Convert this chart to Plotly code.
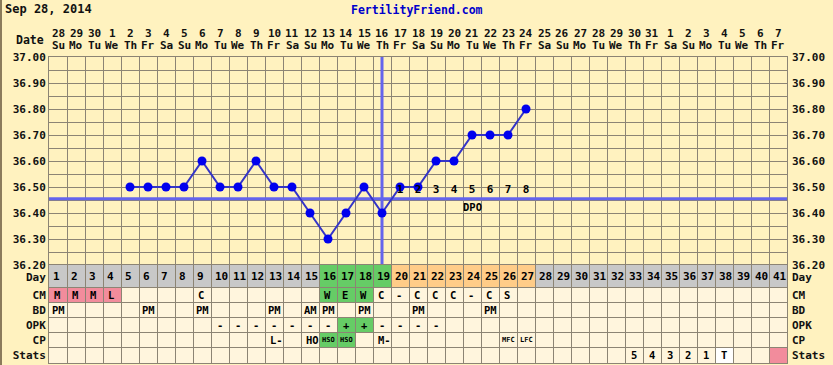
import plotly.graph_objects as go

# ---------------- data ----------------
days = list(range(1, 42))
date_labels = ["28", "29", "30", "1", "2", "3", "4", "5", "6", "7", "8", "9", "10", "11",
               "12", "13", "14", "15", "16", "17", "18", "19", "20", "21", "22", "23", "24",
               "25", "26", "27", "28", "29", "30", "31", "1", "2", "3", "4", "5", "6", "7"]
weekday_labels = ["Su", "Mo", "Tu", "We", "Th", "Fr", "Sa", "Su", "Mo", "Tu", "We", "Th", "Fr", "Sa",
                  "Su", "Mo", "Tu", "We", "Th", "Fr", "Sa", "Su", "Mo", "Tu", "We", "Th", "Fr", "Sa",
                  "Su", "Mo", "Tu", "We", "Th", "Fr", "Sa", "Su", "Mo", "Tu", "We", "Th", "Fr"]

temp_days = [5, 6, 7, 8, 9, 10, 11, 12, 13, 14, 15, 16, 17, 18, 19, 20, 21, 22, 23, 24, 25, 26, 27]
temps = [36.50, 36.50, 36.50, 36.50, 36.60, 36.50, 36.50, 36.60, 36.50, 36.50, 36.40, 36.30,
         36.40, 36.50, 36.40, 36.50, 36.50, 36.60, 36.60, 36.70, 36.70, 36.70, 36.80]

ovulation_day = 19
coverline = 36.455
dpo_days = [20, 21, 22, 23, 24, 25, 26, 27]
dpo_labels = ["1", "2", "3", "4", "5", "6", "7", "8"]
dpo_title_day = 24

temp_ticks = [36.20, 36.30, 36.40, 36.50, 36.60, 36.70, 36.80, 36.90, 37.00]

day_phase = ["grey"] * 15 + ["green"] * 4 + ["orange"] * 8 + ["grey"] * 14

cm_obs = {1: "M", 2: "M", 3: "M", 4: "L", 9: "C", 16: "W", 17: "E", 18: "W", 19: "C",
          20: "-", 21: "C", 22: "C", 23: "C", 24: "-", 25: "C", 26: "S"}
cm_fill = {1: "pink", 2: "pink", 3: "pink", 4: "pink", 16: "green", 17: "green", 18: "green"}
bd_obs = {1: "PM", 6: "PM", 9: "PM", 13: "PM", 15: "AM", 16: "PM", 18: "PM", 21: "PM", 25: "PM"}
opk_obs = {10: "-", 11: "-", 12: "-", 13: "-", 14: "-", 15: "-", 16: "-", 17: "+", 18: "+",
           19: "-", 20: "-", 21: "-", 22: "-"}
opk_fill = {17: "green", 18: "green"}
cp_obs = {13: "L-", 15: "HO", 16: "HSO", 17: "HSO", 19: "M-", 26: "MFC", 27: "LFC"}
cp_fill = {16: "green", 17: "green"}
cp_small = ["HSO", "MFC", "LFC"]
stats_obs = {33: "5", 34: "4", 35: "3", 36: "2", 37: "1", 38: "T"}
stats_fill = {38: "white", 41: "pink"}

row_names = ["Day", "CM", "BD", "OPK", "CP", "Stats"]
row_bottoms = [5.0, 4.0, 3.0, 2.0, 1.0, 0.0]
row_tops = [6.5, 5.0, 4.0, 3.0, 2.0, 1.0]

# ---------------- style ----------------
BG = "#FFF2BF"
CELL = "#FFF5DD"
GRID = "#8C8474"
FILLS = {"grey": "#C8C8C8", "green": "#66CC66", "orange": "#FFCC88",
         "pink": "#F28C9C", "white": "#FFFFFF"}
FONT = "DejaVu Sans Mono"
LABEL_SIZE = 11
W, H = 833, 365
L, R, T, B = 49, 46, 57, 2
PW, PH = W - L - R, H - T - B
TABLE_PX = 98
TD = TABLE_PX / PH


def py(pix):
    return (H - B - pix) / PH


def px(pix):
    return (pix - L) / PW


fig = go.Figure()

# cover line and ovulation line
fig.add_trace(go.Scatter(x=[0.5, 41.5], y=[coverline, coverline], mode="lines",
                         line=dict(color="#6464EC", width=3), hoverinfo="skip",
                         xaxis="x", yaxis="y"))
fig.add_trace(go.Scatter(x=[ovulation_day, ovulation_day], y=[temp_ticks[0], temp_ticks[-1]],
                         mode="lines", line=dict(color="#6464EC", width=3), hoverinfo="skip",
                         xaxis="x", yaxis="y", cliponaxis=False))
# temperatures
fig.add_trace(go.Scatter(x=temp_days, y=temps, mode="lines+markers",
                         line=dict(color="#3434C8", width=2),
                         marker=dict(color="#0000EE", size=9),
                         xaxis="x", yaxis="y"))
# DPO labels
fig.add_trace(go.Scatter(x=dpo_days, y=[36.487] * len(dpo_days), mode="text", text=dpo_labels,
                         textfont=dict(family=FONT, size=11, color="#000000", weight="bold"),
                         xaxis="x", yaxis="y", hoverinfo="skip"))
# anchor for table subplot
fig.add_trace(go.Scatter(x=days, y=[5.75] * len(days), mode="markers",
                         marker=dict(opacity=0), xaxis="x2", yaxis="y2", hoverinfo="skip"))

shapes = []
annotations = []

# table background
shapes.append(dict(type="rect", xref="x2", yref="y2", x0=0.5, x1=41.5, y0=0, y1=5,
                   fillcolor=CELL, line=dict(width=0), layer="below"))


def cell(day, row_i, color):
    shapes.append(dict(type="rect", xref="x2", yref="y2", x0=day - 0.5, x1=day + 0.5,
                       y0=row_bottoms[row_i], y1=row_tops[row_i],
                       fillcolor=FILLS[color], line=dict(width=0), layer="below"))


def text(day, row_i, s, size=10.5, shift=3):
    annotations.append(dict(x=day - 0.5, y=(row_bottoms[row_i] + row_tops[row_i]) / 2,
                            xref="x2", yref="y2", text=s, showarrow=False,
                            xanchor="left", yanchor="middle", xshift=shift,
                            font=dict(family=FONT, size=size, color="#000000", weight="bold")))


for d, ph in zip(days, day_phase):
    cell(d, 0, ph)
    text(d, 0, str(d), size=11, shift=2)
for d, c in cm_fill.items():
    cell(d, 1, c)
for d, s in cm_obs.items():
    text(d, 1, s)
for d, s in bd_obs.items():
    text(d, 2, s, shift=1)
for d, c in opk_fill.items():
    cell(d, 3, c)
for d, s in opk_obs.items():
    text(d, 3, s, shift=4)
for d, c in cp_fill.items():
    cell(d, 4, c)
for d, s in cp_obs.items():
    if s in cp_small:
        text(d, 4, s, size=7, shift=1)
    else:
        text(d, 4, s)
for d, c in stats_fill.items():
    cell(d, 5, c)
for d, s in stats_obs.items():
    text(d, 5, s, shift=4)

row_label_pos = [(b + t) / 2 for b, t in zip(row_bottoms, row_tops)]
row_label_pos[0] = 5.68

# right-side row labels
for name, yv in zip(row_names, row_label_pos):
    annotations.append(dict(x=1, y=yv, xref="paper", yref="y2", text=name,
                            showarrow=False, xanchor="left", yanchor="middle", xshift=3,
                            font=dict(family=FONT, size=LABEL_SIZE, color="#111111", weight="bold")))
# right-side temperature labels
for v in temp_ticks:
    annotations.append(dict(x=1, y=v, xref="paper", yref="y", text=f"{v:.2f}",
                            showarrow=False, xanchor="left", yanchor="middle", xshift=3,
                            font=dict(family=FONT, size=LABEL_SIZE, color="#111111", weight="bold")))

# header
annotations.append(dict(x=px(3), y=py(9), xref="paper", yref="paper", text="Sep 28, 2014",
                        showarrow=False, xanchor="left", yanchor="middle",
                        font=dict(family=FONT, size=12, color="#111111", weight="bold")))
annotations.append(dict(x=px(417), y=py(10), xref="paper", yref="paper",
                        text="FertilityFriend.com", showarrow=False, xanchor="center",
                        yanchor="middle",
                        font=dict(family=FONT, size=11.5, color="#0000CC", weight="bold")))
annotations.append(dict(x=px(46), y=py(40), xref="paper", yref="paper", text="Date",
                        showarrow=False, xanchor="right", yanchor="middle",
                        font=dict(family=FONT, size=11.5, color="#111111", weight="bold")))
for d, dl, wl in zip(days, date_labels, weekday_labels):
    annotations.append(dict(x=d, y=py(33), xref="x", yref="paper", text=dl, showarrow=False,
                            xanchor="center", yanchor="middle",
                            font=dict(family=FONT, size=11, color="#111111", weight="bold")))
    annotations.append(dict(x=d, y=py(46), xref="x", yref="paper", text=wl, showarrow=False,
                            xanchor="center", yanchor="middle",
                            font=dict(family=FONT, size=11, color="#111111", weight="bold")))
# DPO title
annotations.append(dict(x=dpo_title_day, y=36.422, xref="x", yref="y", text="DPO",
                        showarrow=False, xanchor="center", yanchor="middle",
                        font=dict(family=FONT, size=10.5, color="#000000", weight="bold")))

# outer left border
shapes.append(dict(type="line", xref="paper", yref="paper", x0=px(1), x1=px(1),
                   y0=py(0), y1=py(H), line=dict(color="#8B7B5B", width=2)))

boundaries = [d + 0.5 for d in range(0, 42)]
xaxis_common = dict(range=[0.5, 41.5], tickmode="array", tickvals=boundaries,
                    showticklabels=False, ticks="", showgrid=True, gridcolor=GRID, gridwidth=1,
                    zeroline=False, showline=True, mirror=True, linecolor=GRID, linewidth=1,
                    fixedrange=True, automargin=False)

fig.update_layout(
    width=W, height=H, template="none", showlegend=False,
    margin=dict(l=L, r=R, t=T, b=B, pad=0),
    paper_bgcolor=BG, plot_bgcolor=BG,
    xaxis=dict(domain=[0, 1], anchor="y", **xaxis_common),
    xaxis2=dict(domain=[0, 1], anchor="y2", matches="x", **xaxis_common),
    yaxis=dict(domain=[TD, 1], range=[36.20, 37.00], anchor="x", tickmode="array",
               tickvals=temp_ticks, ticktext=[f"{v:.2f}" for v in temp_ticks],
               ticks="", showgrid=True, gridcolor=GRID, gridwidth=1,
               minor=dict(dtick=0.05, tick0=36.20, showgrid=True, gridcolor=GRID, gridwidth=1),
               zeroline=False, showline=True, mirror=True, linecolor=GRID,
               tickfont=dict(family=FONT, size=LABEL_SIZE, color="#111111", weight="bold"),
               fixedrange=True, automargin=False),
    yaxis2=dict(domain=[0, TD], range=[0, 6.5], anchor="x2", tickmode="array",
                tickvals=row_label_pos,
                ticktext=row_names, ticks="", showgrid=False,
                minor=dict(tickmode="array", tickvals=[0, 1, 2, 3, 4, 5], showgrid=True,
                           gridcolor=GRID, gridwidth=1),
                zeroline=False, showline=True, mirror=True, linecolor=GRID,
                tickfont=dict(family=FONT, size=LABEL_SIZE, color="#111111", weight="bold"),
                fixedrange=True, automargin=False),
    shapes=shapes, annotations=annotations,
)

fig.write_html("out.html", config={"displayModeBar": False},
               post_script="document.body.style.margin='0';document.body.style.overflow='hidden';")
